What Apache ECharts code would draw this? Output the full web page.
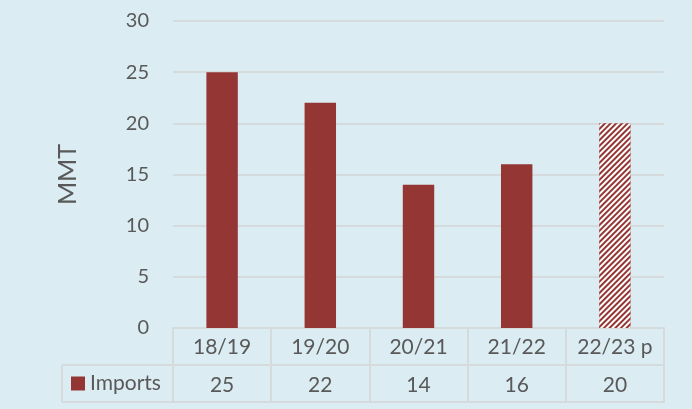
<!DOCTYPE html>
<html>
<head>
<meta charset="utf-8">
<script src="https://cdn.jsdelivr.net/npm/echarts@6/dist/echarts.min.js"></script>
<style>
  html, body { margin: 0; padding: 0; background: #dbecf2; }
  #main { width: 692px; height: 409px; }
</style>
</head>
<body>
<div id="main"></div>
<script>
// data
var seasons = ['18/19', '19/20', '20/21', '21/22', '22/23 p'];
var imports = [25, 22, 14, 16, 20];
var projected = [false, false, false, false, true];
var yTicks = { min: 0, max: 30, step: 5 };

// layout
var gLeft = 173, gRight = 28, gTop = 21, gBottom = 81;
var rowH = 37, tableLeft = 62;
var lineCol = '#d5dadd';
var textCol = '#595959';
var barCol = '#943634';

var myChart = echarts.init(document.getElementById('main'));

var W = 692, H = 409;
var axisY = H - gBottom;

myChart.setOption({
    backgroundColor: '#dbecf2',
    textStyle: { fontFamily: 'Lato' },
    grid: { left: gLeft, right: gRight, top: gTop, bottom: gBottom },
    legend: {
        data: ['Imports'],
        left: 71,
        top: axisY + rowH + 8,
        padding: 0,
        icon: 'rect',
        itemWidth: 14,
        itemHeight: 14,
        textStyle: { color: textCol, fontSize: 21, fontFamily: 'Lato' }
    },
    xAxis: {
        type: 'category',
        data: seasons,
        axisLine: { lineStyle: { color: lineCol, width: 2 } },
        axisTick: { show: true, length: rowH * 2 + 1, lineStyle: { color: lineCol, width: 2 } },
        axisLabel: {
            margin: 1,
            interval: 0,
            formatter: function (v, i) {
                return '{c|' + v + '}\n{v|' + imports[i] + '}';
            },
            rich: {
                c: { color: textCol, fontSize: 21, lineHeight: rowH, fontFamily: 'Lato' },
                v: { color: textCol, fontSize: 21, lineHeight: rowH + 2, fontFamily: 'Lato' }
            }
        }
    },
    yAxis: {
        type: 'value',
        min: yTicks.min,
        max: yTicks.max,
        interval: yTicks.step,
        name: 'MMT',
        nameLocation: 'middle',
        nameGap: 93,
        nameTextStyle: { color: textCol, fontSize: 25, fontFamily: 'Lato' },
        axisLine: { show: false },
        axisTick: { show: false },
        axisLabel: { color: textCol, fontSize: 20, margin: 24, fontFamily: 'Lato' },
        splitLine: { lineStyle: { color: lineCol, width: 2 } }
    },
    series: [{
        name: 'Imports',
        type: 'bar',
        barWidth: '32%',
        itemStyle: { color: barCol },
        data: imports.map(function (v, i) {
            if (!projected[i]) return v;
            return {
                value: v,
                itemStyle: {
                    color: barCol,
                    decal: {
                        symbol: 'rect',
                        symbolSize: 1,
                        color: '#ffffff',
                        dashArrayX: [1, 0],
                        dashArrayY: [2, 2],
                        rotation: -Math.PI / 4
                    }
                }
            };
        })
    }],
    graphic: [
        { type: 'line', shape: { x1: tableLeft, y1: axisY + rowH, x2: W - gRight, y2: axisY + rowH },
          style: { stroke: lineCol, lineWidth: 2 } },
        { type: 'line', shape: { x1: tableLeft, y1: axisY + rowH * 2, x2: W - gRight, y2: axisY + rowH * 2 },
          style: { stroke: lineCol, lineWidth: 2 } },
        { type: 'line', shape: { x1: tableLeft, y1: axisY + rowH, x2: tableLeft, y2: axisY + rowH * 2 },
          style: { stroke: lineCol, lineWidth: 2 } }
    ]
});
</script>
</body>
</html>
